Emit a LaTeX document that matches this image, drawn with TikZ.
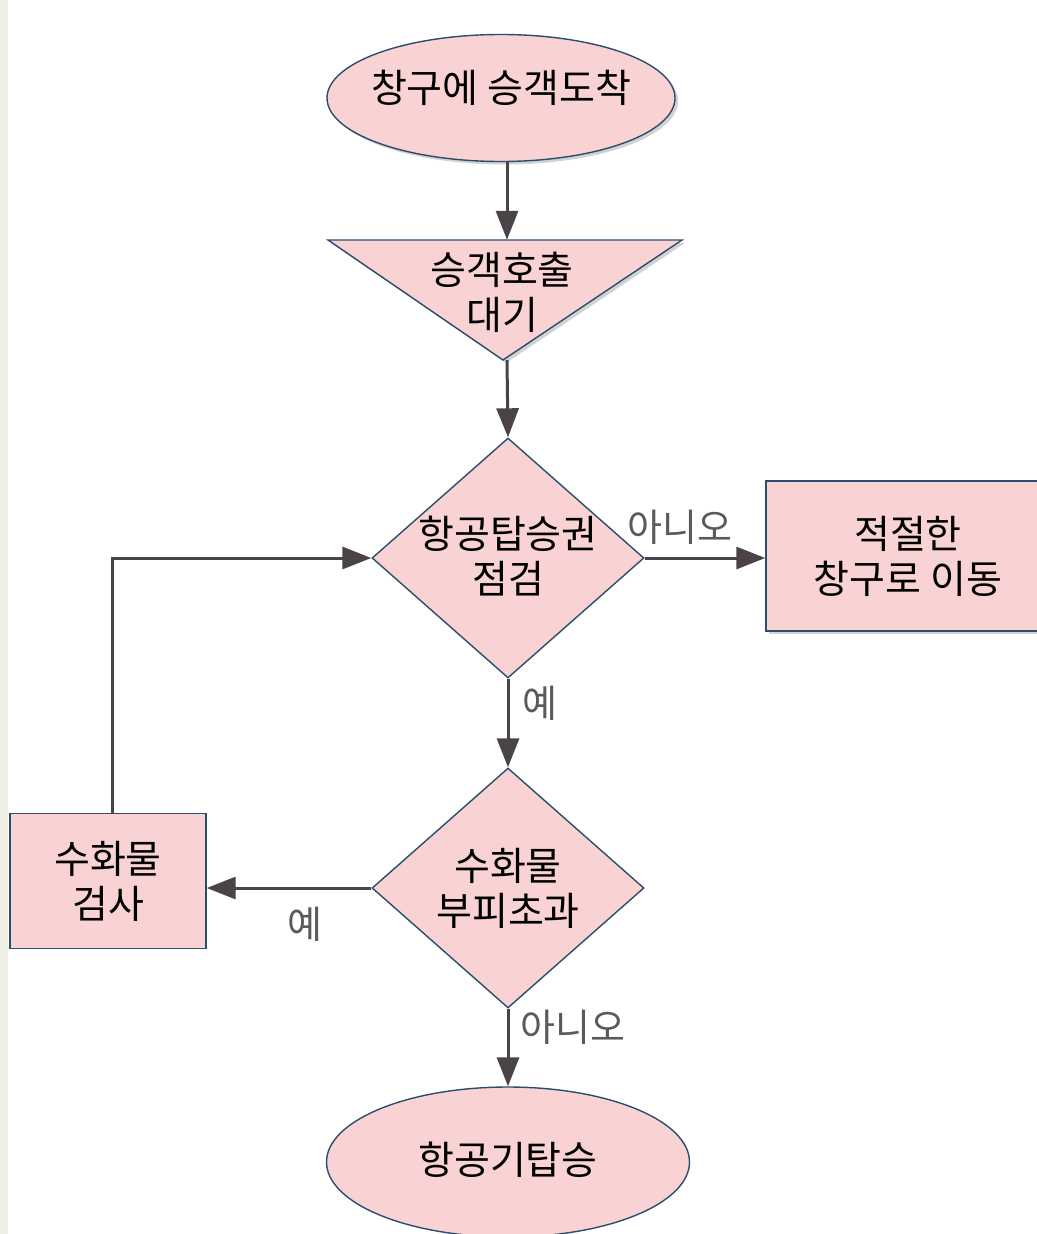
\documentclass[tikz,border=0pt]{standalone}
\usepackage{fontspec}
\newfontfamily\kr{Noto Sans CJK KR}
\usetikzlibrary{shapes.geometric,arrows.meta,calc,shadows}
\definecolor{boxfill}{HTML}{F9D3D3}
\definecolor{boxline}{HTML}{2A4D6E}
\definecolor{arrowc}{HTML}{4A4448}
\definecolor{labelc}{HTML}{5A5A5A}
\definecolor{stripc}{HTML}{EEEEE2}
\begin{document}
\begin{tikzpicture}[x=1pt,y=-1pt,
  shp/.style={draw=boxline,line width=1.4pt,fill=boxfill,inner sep=0pt},
  txt/.style={font=\kr\fontsize{39}{45}\selectfont,align=center,text=black},
  lbl/.style={font=\kr\fontsize{38}{42}\selectfont,text=labelc},
  conn/.style={draw=arrowc,line width=3pt,-{Triangle[length=29pt,width=22pt]}},
  shd/.style={drop shadow={shadow xshift=3pt,shadow yshift=-3pt,opacity=0.35,fill=gray}}
]
\useasboundingbox (0,0) rectangle (1036,1234);
\fill[white] (0,0) rectangle (1036,1234);
\fill[stripc] (0,0) rectangle (8,1234);

% start ellipse
\node[shp,ellipse,minimum width=348pt,minimum height=127pt,shd] (start) at (501,98) {};
\node[txt] (starttxt) at (501,88) {창구에 승객도착};

% waiting triangle
\fill[gray,opacity=0.35] (331,243) -- (685,243) -- (506,363) -- cycle;
\draw[shp] (328,240) -- (682,240) -- (503,360) -- cycle;
\node[inner sep=0pt,minimum width=354pt,minimum height=120pt] (wait) at (507,300) {};
\node[txt] (waittxt) at (502,292) {승객호출\\대기};

% decision 1
\node[shp,diamond,minimum width=272pt,minimum height=240pt] (d1) at (508,558) {};
\node[txt] (d1txt) at (508,556) {항공탑승권\\점검};

% right box
\node[shp,rectangle,minimum width=284pt,minimum height=150pt,shd] (rbox) at (908,556) {};
\node[txt] (rboxtxt) at (908,556) {적절한\\창구로 이동};

% decision 2
\node[shp,diamond,minimum width=272pt,minimum height=240pt] (d2) at (508,888) {};
\node[txt] (d2txt) at (508,888) {수화물\\부피초과};

% left box
\node[shp,rectangle,minimum width=196pt,minimum height=135pt] (lbox) at (108,881) {};
\node[txt] (lboxtxt) at (108,881) {수화물\\검사};

% end ellipse
\node[shp,ellipse,minimum width=363pt,minimum height=150pt] (finish) at (508,1162) {};
\node[txt] (finishtxt) at (508,1160) {항공기탑승};

% connectors
\draw[conn] (start.south -| wait.north) -- (wait.north);
\draw[conn] (wait.south) -- (d1.north);
\draw[conn] (d1.east) -- (rbox.west |- d1.east);
\draw[conn] (d1.south) -- (d2.north);
\draw[conn] (d2.west) -- (lbox.east |- d2.west);
\draw[conn] (d2.south) -- (finish.north);
\draw[conn] ([xshift=4pt]lbox.north) |- (d1.west);

% labels
\node[lbl] (l1) at (680,527) {아니오};
\node[lbl] (l2) at (540,703) {예};
\node[lbl] (l3) at (305,924) {예};
\node[lbl] (l4) at (573,1027) {아니오};
\end{tikzpicture}
\end{document}
